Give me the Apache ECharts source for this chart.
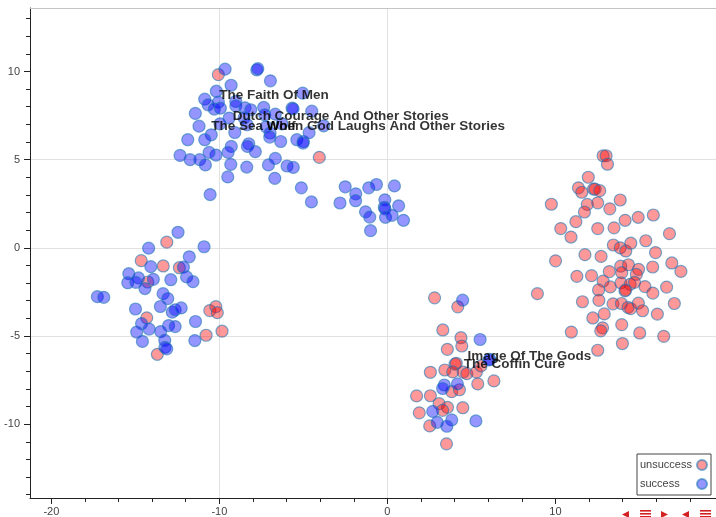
<!DOCTYPE html>
<html><head><meta charset="utf-8">
<script src="https://cdn.jsdelivr.net/npm/echarts@6/dist/echarts.min.js"></script>
<style>html,body{margin:0;padding:0;background:#fff}#c{width:716px;height:517px}</style>
</head><body><div id="c"></div>
<script>
// ---------- axis ranges and ticks ----------
const xRange = [-21.27, 19.56];
const yRange = [-14.19, 13.60];
const xTicks = [-20, -10, 0, 10];
const yTicks = [-10, -5, 0, 5, 10];

// ---------- series names ----------
const seriesNames = ['unsuccess', 'success'];

// ---------- success (blue) points ----------
const successTop = [
 [-9.66,10.13],[-7.77,10.09],[-7.71,10.16],[-6.96,9.47],[-9.30,9.22],[-10.18,8.88],[-5.04,8.77],[-10.87,8.43],
 [-10.67,8.11],[-10.06,8.26],[-9.02,8.30],[-9.02,8.05],[-11.43,7.62],[-10.30,7.87],[-9.94,7.92],[-8.47,7.94],
 [-8.13,7.83],[-7.36,7.96],[-5.67,7.92],[-5.61,7.88],[-4.50,7.75],[-9.42,7.36],[-8.53,7.37],[-7.30,7.54],
 [-6.67,7.58],[-11.21,6.90],[-9.96,7.03],[-8.35,6.98],[-7.22,6.86],[-6.27,7.03],[-10.48,6.41],[-10.87,6.13],
 [-11.88,6.13],[-9.08,6.54],[-6.98,6.51],[-7.00,6.28],[-6.35,6.03],[-5.39,6.13],[-5.00,6.03],[-5.02,5.94],
 [-4.66,6.53],[-3.79,6.92],[-9.29,5.75],[-9.48,5.41],[-8.25,5.90],[-8.33,5.75],[-7.86,5.45],[-10.20,5.26],
 [-10.61,5.41],[-12.34,5.24],[-11.74,5.00],[-11.17,5.00],[-10.83,4.70],[-9.32,4.73],[-8.37,4.58],[-7.08,4.70],
 [-6.67,5.07],[-5.97,4.64],[-5.60,4.56],[-9.50,4.02],[-6.70,3.94],[-10.55,3.02],[-5.12,3.40],[-4.52,2.60]
];
const successMid = [
 [-2.82,2.54],[-2.51,3.46],[-1.88,3.06],[-1.89,2.67],[-1.11,3.40],[-0.65,3.59],[0.42,3.51],[-0.15,2.72],
 [-0.18,2.30],[-0.14,2.21],[0.67,2.38],[-1.30,2.04],[-1.05,1.74],[-0.11,1.73],[0.28,1.84],[0.96,1.56],[-1.00,0.97]
];
const successLeft = [
 [-12.46,0.88],[-14.21,-0.02],[-10.91,0.06],[-11.79,-0.51],[-14.08,-1.07],[-12.14,-1.10],[-15.39,-1.47],[-14.81,-1.71],
 [-13.93,-1.79],[-12.89,-1.81],[-11.95,-1.65],[-11.57,-1.92],[-15.45,-1.98],[-14.97,-1.96],[-14.43,-2.31],[-17.26,-2.77],
 [-16.88,-2.81],[-13.35,-2.60],[-13.07,-2.88],[-14.99,-3.47],[-13.51,-3.33],[-12.80,-3.65],[-12.63,-3.52],[-12.27,-3.41],
 [-14.63,-4.30],[-14.18,-4.61],[-14.92,-4.78],[-13.02,-4.41],[-12.63,-4.47],[-13.49,-4.75],[-11.42,-4.18],[-11.46,-5.26],
 [-14.58,-5.31],[-13.25,-5.25],[-13.24,-5.65],[-13.13,-5.73]
];
const successBottom = [
 [4.48,-2.97],[5.52,-5.20],[6.10,-6.33],[6.05,-6.36],[3.39,-7.78],[3.29,-7.98],[4.17,-7.72],[2.70,-9.28],
 [3.83,-9.76],[2.97,-9.90],[3.54,-10.12],[5.27,-9.82]
];

// ---------- unsuccess (red) points ----------
const unsuccessTop = [[-10.06,9.82],[-4.05,5.13]];
const unsuccessLeft = [
 [-13.13,0.32],[-14.65,-0.73],[-13.34,-1.03],[-12.38,-1.13],[-14.26,-1.94],[-10.57,-3.56],[-10.21,-3.34],[-10.12,-3.68],
 [-14.32,-3.97],[-9.84,-4.73],[-10.79,-4.96],[-13.69,-6.04]
];
const unsuccessBottom = [
 [2.81,-2.84],[4.19,-3.35],[3.30,-4.66],[4.38,-5.10],[4.43,-5.57],[3.57,-5.76],[4.03,-6.60],[4.10,-6.55],
 [3.42,-6.93],[3.89,-7.04],[4.51,-7.05],[4.73,-7.14],[5.30,-7.05],[5.57,-6.70],[2.56,-7.06],[6.34,-7.55],
 [5.38,-7.72],[3.83,-8.16],[4.29,-8.05],[1.74,-8.40],[2.56,-8.39],[3.08,-8.84],[3.58,-9.05],[3.29,-9.22],
 [4.49,-9.07],[1.90,-9.36],[2.52,-10.10],[3.52,-11.12]
];
const unsuccessRight = [
 [12.84,5.22],[13.02,5.22],[13.10,4.74],[11.96,4.00],[11.37,3.40],[11.57,3.15],[12.27,3.33],[12.36,3.33],
 [12.64,3.24],[9.76,2.47],[13.86,2.71],[11.90,2.46],[12.52,2.55],[13.24,2.21],[11.73,2.03],[11.22,1.48],
 [14.15,1.56],[14.93,1.73],[15.83,1.86],[10.32,1.09],[10.93,0.61],[12.52,1.09],[13.49,1.13],[16.79,0.80],
 [13.45,0.16],[13.86,0.00],[14.19,-0.18],[14.49,0.26],[15.38,0.40],[15.96,-0.27],[11.76,-0.39],[12.72,-0.49],
 [10.01,-0.74],[16.93,-0.86],[17.47,-1.34],[13.89,-1.04],[14.35,-0.96],[14.95,-1.22],[14.82,-1.51],[15.79,-1.09],
 [13.21,-1.35],[13.95,-1.41],[11.28,-1.62],[12.15,-1.58],[12.84,-1.89],[13.90,-1.99],[14.45,-2.07],[14.71,-1.96],
 [13.27,-2.22],[12.57,-2.39],[14.14,-2.44],[14.18,-2.40],[15.33,-2.20],[15.80,-2.57],[16.62,-2.23],[8.93,-2.60],
 [11.61,-3.06],[12.59,-2.98],[13.43,-3.18],[13.93,-3.16],[14.32,-3.38],[14.48,-3.45],[14.94,-3.14],[15.19,-3.57],
 [16.07,-3.76],[17.08,-3.16],[12.91,-3.75],[12.23,-3.98],[13.95,-4.36],[12.81,-4.54],[12.70,-4.71],[10.95,-4.78],
 [15.02,-4.83],[16.45,-5.02],[13.99,-5.43],[12.52,-5.81]
];

// ---------- annotated titles ----------
const labelNames = ['The Faith Of Men','Dutch Courage And Other Stories','The Sea Wolf',
  'When God Laughs And Other Stories','Image Of The Gods','The Coffin Cure'];
const labelX = [-9.98, -9.18, -10.45, -7.16, 4.80, 4.57];
const labelY = [8.22, 7.03, 6.49, 6.49, -6.60, -7.04];

const successPts = [].concat(successTop, successMid, successLeft, successBottom);
const unsuccessPts = [].concat(unsuccessTop, unsuccessLeft, unsuccessBottom, unsuccessRight);

const FONT = 'Helvetica, Arial, "Liberation Sans", sans-serif';
const axisColor = '#222';
const edge = { borderColor: 'rgba(31,119,180,0.75)', borderWidth: 1.2 };
const navRed = '#d42020';

const chart = echarts.init(document.getElementById('c'), null, {renderer: 'canvas'});
chart.setOption({
  animation: false,
  backgroundColor: '#fff',
  grid: { left: 30, right: 0, top: 8, bottom: 18, containLabel: false },
  xAxis: [{
    type: 'value', min: xRange[0], max: xRange[1], splitNumber: 4,
    axisLine: { show: true, onZero: false, lineStyle: { color: axisColor, width: 1 } },
    axisTick: { show: true, length: 6, customValues: xTicks, lineStyle: { color: axisColor } },
    minorTick: { show: true, splitNumber: 5, length: 4, lineStyle: { color: axisColor } },
    axisLabel: { customValues: xTicks, margin: 8, fontSize: 11, color: '#444', fontFamily: FONT },
    splitLine: { show: true, showMinLine: false, showMaxLine: false, lineStyle: { color: '#e2e2e2', width: 1 } }
  }, {
    type: 'value', position: 'top', min: xRange[0], max: xRange[1],
    axisLine: { show: true, onZero: false, lineStyle: { color: '#c4c4c4', width: 1 } },
    axisTick: { show: false }, axisLabel: { show: false }, splitLine: { show: false }
  }],
  yAxis: {
    type: 'value', min: yRange[0], max: yRange[1], splitNumber: 5,
    axisLine: { show: true, onZero: false, lineStyle: { color: axisColor, width: 1 } },
    axisTick: { show: true, length: 6, customValues: yTicks, lineStyle: { color: axisColor } },
    minorTick: { show: true, splitNumber: 5, length: 4, lineStyle: { color: axisColor } },
    axisLabel: { customValues: yTicks, margin: 10, fontSize: 11, color: '#444', fontFamily: FONT },
    splitLine: { show: true, showMinLine: false, showMaxLine: false, lineStyle: { color: '#e2e2e2', width: 1 } }
  },
  legend: {
    data: seriesNames, orient: 'vertical', right: 5, top: 454, align: 'right',
    icon: 'circle', itemWidth: 10, itemHeight: 10, itemGap: 7,
    padding: [5, 3, 5, 3], borderColor: '#444', borderWidth: 1, borderRadius: 0,
    backgroundColor: '#fff', selectedMode: false,
    formatter: '{t|{name}}',
    textStyle: { fontSize: 11, color: '#444', fontFamily: FONT,
      rich: { t: { width: 52, align: 'left', fontSize: 11, color: '#444', fontFamily: FONT } } }
  },
  graphic: [
    { type: 'polygon', shape: { points: [[629,511],[622,514.5],[629,518]] }, style: { fill: navRed }, silent: true },
    { type: 'rect', shape: { x: 640, y: 510, width: 11, height: 1.6 }, style: { fill: navRed }, silent: true },
    { type: 'rect', shape: { x: 640, y: 513, width: 11, height: 1.6 }, style: { fill: navRed }, silent: true },
    { type: 'rect', shape: { x: 640, y: 516, width: 11, height: 1.6 }, style: { fill: navRed }, silent: true },
    { type: 'polygon', shape: { points: [[661,511],[668,514.5],[661,518]] }, style: { fill: navRed }, silent: true },
    { type: 'polygon', shape: { points: [[689,511],[682,514.5],[689,518]] }, style: { fill: navRed }, silent: true },
    { type: 'rect', shape: { x: 700, y: 510, width: 11, height: 1.6 }, style: { fill: navRed }, silent: true },
    { type: 'rect', shape: { x: 700, y: 513, width: 11, height: 1.6 }, style: { fill: navRed }, silent: true },
    { type: 'rect', shape: { x: 700, y: 516, width: 11, height: 1.6 }, style: { fill: navRed }, silent: true }
  ],
  series: [{
    name: seriesNames[0], type: 'scatter', data: unsuccessPts, symbolSize: 12,
    itemStyle: Object.assign({ color: 'rgba(255,0,0,0.5)' }, edge), z: 2
  }, {
    name: seriesNames[1], type: 'scatter', data: successPts, symbolSize: 12,
    itemStyle: Object.assign({ color: 'rgba(0,0,255,0.52)' }, edge), z: 3
  }, {
    name: 'titles', type: 'scatter', symbolSize: 1, silent: true, z: 10,
    itemStyle: { color: 'rgba(0,0,0,0)' },
    data: labelNames.map((n, i) => ({ name: n, value: [labelX[i], labelY[i]] })),
    label: { show: true, position: [0, 0], align: 'left', verticalAlign: 'bottom',
      formatter: '{b}', fontWeight: 'bold', fontSize: 13.5, color: '#000', fontFamily: FONT }
  }]
});
</script></body></html>
